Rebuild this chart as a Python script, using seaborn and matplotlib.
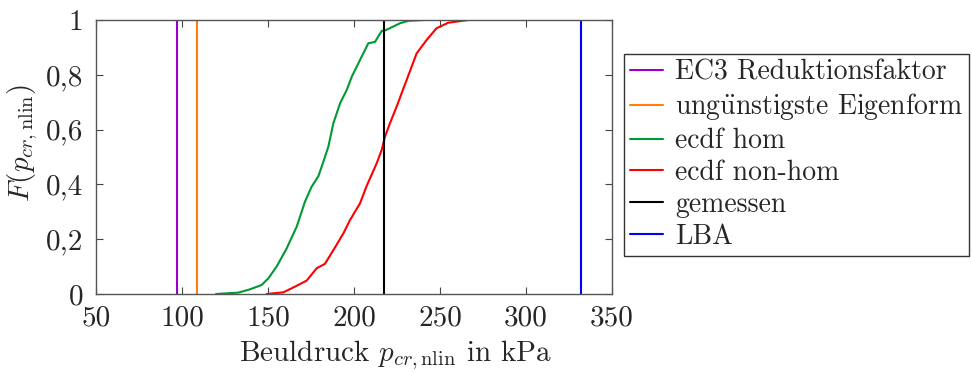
import matplotlib
matplotlib.use("Agg")
import matplotlib.pyplot as plt
import seaborn as sns
import pandas as pd

# --- values ---
# ecdf of the homogeneous simulations (buckling pressure in kPa, F)
hom_p = [119.8, 132.7, 139.5, 146.3, 150.2, 155.0, 160.9, 166.7, 171.5, 175.4,
         179.3, 182.2, 185.1, 188.0, 191.9, 195.8, 198.7, 203.5, 208.3, 212.2,
         216.1, 218.5, 226.7, 231.6, 240.7]
hom_F = [0.0, 0.005, 0.017, 0.033, 0.057, 0.10, 0.167, 0.246, 0.337, 0.392,
         0.43, 0.483, 0.538, 0.623, 0.696, 0.745, 0.793, 0.854, 0.915, 0.92,
         0.96, 0.963, 0.988, 0.997, 1.0]

# ecdf of the non-homogeneous simulations
nonhom_p = [149.2, 158.9, 166.7, 172.5, 178.3, 183.1, 188.0, 193.8, 197.7, 203.5,
            207.4, 213.2, 216.1, 218.0, 220.9, 224.8, 230.6, 236.4, 242.2, 248.0,
            254.8, 266.5]
nonhom_F = [0.0, 0.006, 0.030, 0.049, 0.094, 0.11, 0.16, 0.221, 0.27, 0.331,
            0.395, 0.477, 0.526, 0.574, 0.623, 0.684, 0.781, 0.878, 0.927, 0.97,
            0.99, 1.0]

# single reference values (kPa)
p_ec3 = 97.0        # EC3 Reduktionsfaktor
p_eigen = 108.5     # ungünstigste Eigenform
p_measured = 217.7  # gemessen
p_lba = 332.0       # LBA

x_ticks = [50, 100, 150, 200, 250, 300, 350]
y_ticks = [0, 0.2, 0.4, 0.6, 0.8, 1.0]
y_tick_labels = ["0", "0,2", "0,4", "0,6", "0,8", "1"]

# --- styling ---
sns.set_theme(style="white")
plt.rcParams["font.family"] = ["cmr10", "DejaVu Serif"]
plt.rcParams["mathtext.fontset"] = "cm"
plt.rcParams["axes.formatter.use_mathtext"] = True
plt.rcParams["axes.unicode_minus"] = False

FS = 21      # ticks and axis labels
FS_LEG = 20  # legend entries

fig = plt.figure(figsize=(9.72, 3.72), dpi=100)
ax = fig.add_axes([96 / 972, 1 - 294 / 372, (612 - 96) / 972, (294 - 20) / 372])

ax.axvline(p_ec3, color="#9900cc", lw=1.5, label="EC3 Reduktionsfaktor")
# cmr10 has no ü glyph, so the umlaut is built with mathtext
ax.axvline(p_eigen, color="#ff7f0e", lw=1.5,
           label=r"ung$\ddot{\mathrm{u}}$nstigste Eigenform")

hom_df = pd.DataFrame({"p": hom_p, "F": hom_F})
nonhom_df = pd.DataFrame({"p": nonhom_p, "F": nonhom_F})
sns.lineplot(data=hom_df, x="p", y="F", ax=ax, color="#009933", lw=1.5,
             sort=False, estimator=None, label="ecdf hom")
sns.lineplot(data=nonhom_df, x="p", y="F", ax=ax, color="#ff0000", lw=1.5,
             sort=False, estimator=None, label="ecdf non-hom")

ax.axvline(p_measured, color="black", lw=1.5, label="gemessen")
ax.axvline(p_lba, color="#0000ff", lw=1.5, label="LBA")

ax.set_xlim(50, 350)
ax.set_ylim(0, 1)
ax.set_xticks(x_ticks)
ax.set_xticklabels([str(t) for t in x_ticks], fontsize=FS)
ax.set_yticks(y_ticks)
ax.set_yticklabels(y_tick_labels, fontsize=FS)
ax.tick_params(direction="in", length=5, width=0.8, color="#444444",
               top=True, right=True, bottom=True, left=True)
ax.tick_params(axis="x", pad=8)
ax.tick_params(axis="y", pad=9)

for s in ax.spines.values():
    s.set_color("#555555")
    s.set_linewidth(1.0)

ax.set_xlabel(r"Beuldruck $p_{cr,\mathrm{nlin}}$ in kPa", fontsize=FS)
ax.set_ylabel(r"$F(p_{cr,\mathrm{nlin}})$", fontsize=FS)
ax.xaxis.set_label_coords(0.58, -0.163)
ax.yaxis.set_label_coords(-0.108, 0.55)

leg = ax.legend(loc="upper left", bbox_to_anchor=(624 / 972, 1 - 54 / 372),
                bbox_transform=fig.transFigure, fontsize=FS_LEG, frameon=True,
                fancybox=False, edgecolor="#333333", framealpha=1,
                handlelength=1.2, handletextpad=0.45, labelspacing=0.2,
                borderpad=0.2, borderaxespad=0)
leg.get_frame().set_linewidth(1.0)

fig.savefig("out.png", dpi=100)
